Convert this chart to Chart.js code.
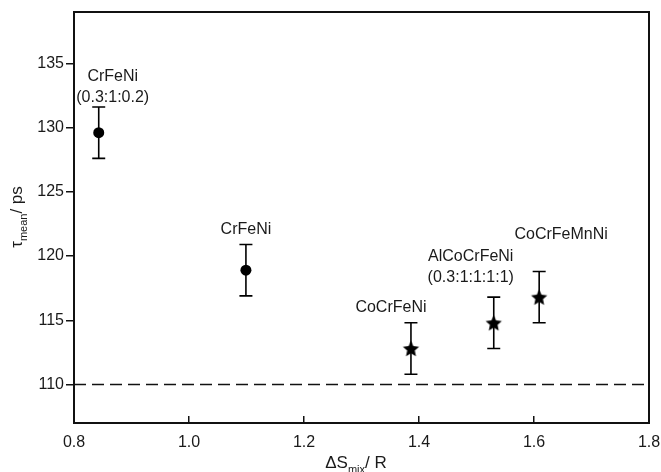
<!DOCTYPE html>
<html><head><meta charset="utf-8">
<script src="https://cdn.jsdelivr.net/npm/chart.js@4"></script>
<style>html,body{margin:0;padding:0;background:#fff}#wrap{width:661px;height:472px}</style>
</head><body><div id="wrap"><canvas id="c" width="661" height="472"></canvas></div>
<script>
// ---- data ----
const alloyLabels = [['CrFeNi','(0.3:1:0.2)'], ['CrFeNi'], ['CoCrFeNi'], ['AlCoCrFeNi','(0.3:1:1:1:1)'], ['CoCrFeMnNi']];
const entropyMix = [0.843, 1.099, 1.386, 1.530, 1.609];
const tauMean = [129.6, 118.9, 112.8, 114.8, 116.8];
const tauErr = [2.0, 2.0, 2.0, 2.0, 2.0];
const markerKind = ['circle', 'circle', 'star', 'star', 'star'];
const refLevel = 110;
const xTicks = [0.8, 1.0, 1.2, 1.4, 1.6, 1.8];
const yTicks = [110, 115, 120, 125, 130, 135];

// ---- layout / style ----
const FONT = '"Liberation Sans", Arial, sans-serif';
const INK = '#1a1a1a';
const labelOffsets = [[14, -56], [0, -41], [-20, -41], [-23, -66], [22, -63]];
const lineGap = 21;

function makeStar(outer, inner) {
  const size = Math.ceil(outer * 2 + 2);
  const cv = document.createElement('canvas');
  cv.width = size; cv.height = size;
  const g = cv.getContext('2d');
  g.fillStyle = '#000';
  g.beginPath();
  for (let k = 0; k < 10; k++) {
    const r = k % 2 === 0 ? outer : inner;
    const a = -Math.PI / 2 + k * Math.PI / 5;
    const px = size / 2 + r * Math.cos(a), py = size / 2 + r * Math.sin(a) + 0.8;
    k === 0 ? g.moveTo(px, py) : g.lineTo(px, py);
  }
  g.closePath(); g.fill();
  return cv;
}
const starImg = makeStar(8.5, 4.0);

const pointData = entropyMix.map((x, i) => ({x, y: tauMean[i]}));
const pointStyles = markerKind.map(k => k === 'star' ? starImg : 'circle');

const errorBars = {
  id: 'errorBars',
  beforeDatasetsDraw(chart) {
    const {ctx, scales: {x, y}} = chart;
    ctx.save();
    ctx.strokeStyle = '#000';
    ctx.lineWidth = 1.6;
    entropyMix.forEach((v, i) => {
      const px = x.getPixelForValue(v);
      const yt = y.getPixelForValue(tauMean[i] + tauErr[i]);
      const yb = y.getPixelForValue(tauMean[i] - tauErr[i]);
      ctx.beginPath();
      ctx.moveTo(px, yt); ctx.lineTo(px, yb);
      ctx.moveTo(px - 6.5, yt); ctx.lineTo(px + 6.5, yt);
      ctx.moveTo(px - 6.5, yb); ctx.lineTo(px + 6.5, yb);
      ctx.stroke();
    });
    ctx.restore();
  }
};

function drawRich(ctx, parts, cx, cy) {
  let w = 0;
  parts.forEach(p => { ctx.font = p.size + 'px ' + FONT; p.w = ctx.measureText(p.t).width; w += p.w; });
  let xx = cx - w / 2;
  parts.forEach(p => { ctx.font = p.size + 'px ' + FONT; ctx.fillText(p.t, xx, cy + p.dy); xx += p.w; });
}

const annotations = {
  id: 'annotations',
  afterDraw(chart) {
    const {ctx, chartArea: a, scales: {x, y}} = chart;
    ctx.save();
    // frame
    ctx.strokeStyle = '#111';
    ctx.lineWidth = 2;
    ctx.strokeRect(a.left, a.top, a.right - a.left, a.bottom - a.top);
    // point labels
    ctx.fillStyle = INK;
    ctx.font = '16px ' + FONT;
    ctx.textAlign = 'center';
    ctx.textBaseline = 'middle';
    alloyLabels.forEach((lines, i) => {
      const px = x.getPixelForValue(entropyMix[i]) + labelOffsets[i][0];
      const py = y.getPixelForValue(tauMean[i]) + labelOffsets[i][1];
      lines.forEach((t, j) => ctx.fillText(t, px, py + j * lineGap));
    });
    // axis titles
    ctx.textAlign = 'left';
    ctx.textBaseline = 'alphabetic';
    drawRich(ctx, [{t: '\u0394S', size: 17, dy: 0}, {t: 'mix', size: 11, dy: 5}, {t: '/ R', size: 17, dy: 0}], 356, 468);
    ctx.save();
    ctx.translate(22, 217);
    ctx.rotate(-Math.PI / 2);
    drawRich(ctx, [{t: '\u03C4', size: 17, dy: 0}, {t: 'mean', size: 11, dy: 5}, {t: '/ ps', size: 17, dy: 0}], 0, 0);
    ctx.restore();
    ctx.restore();
  }
};

new Chart(document.getElementById('c'), {
  type: 'scatter',
  data: {
    datasets: [
      {
        data: pointData,
        pointStyle: pointStyles,
        pointRadius: 5.5,
        backgroundColor: '#000',
        borderColor: '#000',
        borderWidth: 0,
        order: 1
      },
      {
        type: 'line',
        data: [{x: xTicks[0], y: refLevel}, {x: xTicks[xTicks.length - 1], y: refLevel}],
        borderColor: '#111',
        borderWidth: 1.5,
        borderDash: [12, 6],
        pointRadius: 0,
        fill: false,
        order: 2
      }
    ]
  },
  options: {
    responsive: false,
    animation: false,
    devicePixelRatio: 1,
    layout: {padding: {top: 12, right: 12, left: 0, bottom: 0}},
    plugins: {legend: {display: false}, tooltip: {enabled: false}},
    scales: {
      x: {
        type: 'linear', min: 0.8, max: 1.8,
        afterBuildTicks: s => { s.ticks = xTicks.map(v => ({value: v})); },
        afterFit: s => { s.height = 49; s.paddingLeft = 0; s.paddingRight = 0; },
        grid: {drawOnChartArea: false, drawTicks: true, tickLength: -7, color: '#111', lineWidth: 1.5},
        border: {display: false},
        ticks: {color: INK, font: {family: FONT, size: 16}, padding: 17, maxRotation: 0, callback: v => Number(v).toFixed(1)}
      },
      y: {
        type: 'linear', min: 107, max: 139,
        afterBuildTicks: s => { s.ticks = yTicks.map(v => ({value: v})); },
        afterFit: s => { s.width = 74; s.paddingTop = 0; s.paddingBottom = 0; },
        grid: {drawOnChartArea: false, drawTicks: true, tickLength: 8, color: '#111', lineWidth: 1.5},
        border: {display: false},
        ticks: {color: INK, font: {family: FONT, size: 16}, padding: 2, callback: v => String(v)}
      }
    }
  },
  plugins: [errorBars, annotations]
});
</script>
</body></html>
